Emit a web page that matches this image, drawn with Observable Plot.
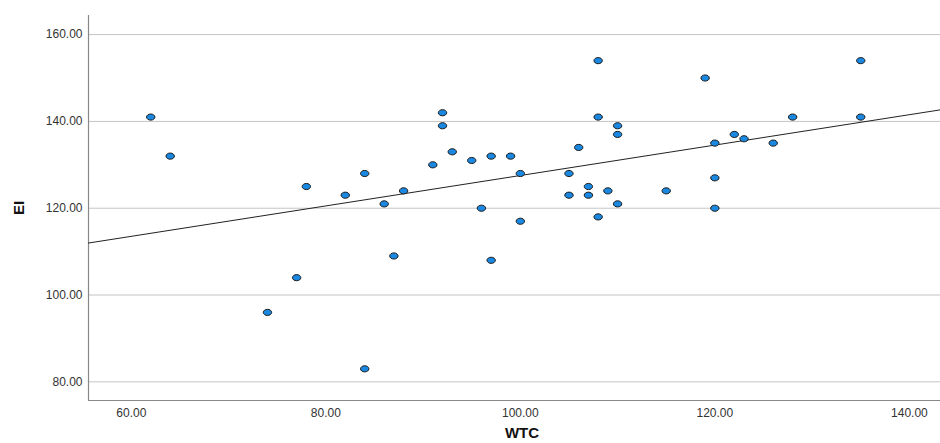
<!DOCTYPE html>
<html>
<head>
<meta charset="utf-8">
<script src="https://cdn.jsdelivr.net/npm/d3@7"></script>
<script src="https://cdn.jsdelivr.net/npm/@observablehq/plot@0.6"></script>
<style>
  html, body { margin: 0; padding: 0; background: #fff; }
  #chart svg { display: block; }
</style>
</head>
<body>
<div id="chart"></div>
<script>
const wtc = [62, 64, 74, 77, 78, 82, 84, 84, 86, 87, 88, 91, 92, 92, 93, 95, 96, 97, 97, 99, 100, 100, 105, 105, 106, 107, 107, 108, 108, 108, 109, 110, 110, 110, 115, 119, 120, 120, 120, 122, 123, 126, 128, 135, 135];
const ei  = [141, 132, 96, 104, 125, 123, 128, 83, 121, 109, 124, 130, 142, 139, 133, 131, 120, 132, 108, 132, 128, 117, 128, 123, 134, 125, 123, 154, 141, 118, 124, 139, 137, 121, 124, 150, 135, 127, 120, 137, 136, 135, 141, 154, 141];
const xTicks = [60, 80, 100, 120, 140];
const yTicks = [80, 100, 120, 140, 160];
const xDomain = [55.6, 143.2];
const yDomain = [75.7, 164.4];

const data = wtc.map((x, i) => ({x, y: ei[i]}));

// least-squares fit line, drawn across the whole x axis like SPSS
const mx = d3.mean(wtc), my = d3.mean(ei);
const slope = d3.sum(data, d => (d.x - mx) * (d.y - my)) / d3.sum(data, d => (d.x - mx) ** 2);
const intercept = my - slope * mx;
const fit = xDomain.map(x => ({x, y: intercept + slope * x}));

const ellipse = {
  draw(ctx, size) {
    const r = Math.sqrt(size / Math.PI);
    const rx = r * 1.2, ry = r * 0.88, k = 0.5523;
    ctx.moveTo(rx, 0);
    ctx.bezierCurveTo(rx, ry * k, rx * k, ry, 0, ry);
    ctx.bezierCurveTo(-rx * k, ry, -rx, ry * k, -rx, 0);
    ctx.bezierCurveTo(-rx, -ry * k, -rx * k, -ry, 0, -ry);
    ctx.bezierCurveTo(rx * k, -ry, rx, -ry * k, rx, 0);
    ctx.closePath();
  }
};

const chart = Plot.plot({
  width: 940,
  height: 443,
  marginLeft: 88,
  marginRight: 0,
  marginTop: 15,
  marginBottom: 43,
  style: {fontFamily: "Liberation Sans, Arial, sans-serif", fontSize: "12px", color: "#333", background: "#fff"},
  x: {domain: xDomain, ticks: xTicks, tickFormat: d3.format(".2f"), label: null, tickSize: 0, tickPadding: 8},
  y: {domain: yDomain, ticks: yTicks, tickFormat: d3.format(".2f"), label: null, tickSize: 0, tickPadding: 6},
  marks: [
    Plot.ruleY(yTicks, {stroke: "#c4c4c4", strokeWidth: 1}),
    Plot.ruleX([xDomain[0]], {stroke: "#888", strokeWidth: 1.2}),
    Plot.ruleY([yDomain[0]], {stroke: "#888", strokeWidth: 1.2}),
    Plot.line(fit, {x: "x", y: "y", stroke: "#222", strokeWidth: 1}),
    Plot.dot(data, {x: "x", y: "y", r: 3.5, symbol: ellipse, fill: "#1a88e0", stroke: "#1a1a1a", strokeWidth: 1})
  ]
});

const svg = d3.select(chart);
svg.append("text")
  .attr("x", 522).attr("y", 438)
  .attr("text-anchor", "middle")
  .attr("font-weight", "bold").attr("font-size", 15)
  .attr("fill", "#111")
  .text("WTC");
svg.append("text")
  .attr("transform", "translate(24,208) rotate(-90)")
  .attr("text-anchor", "middle")
  .attr("font-weight", "bold").attr("font-size", 15)
  .attr("fill", "#111")
  .text("EI");

document.getElementById("chart").appendChild(chart);
</script>
</body>
</html>
